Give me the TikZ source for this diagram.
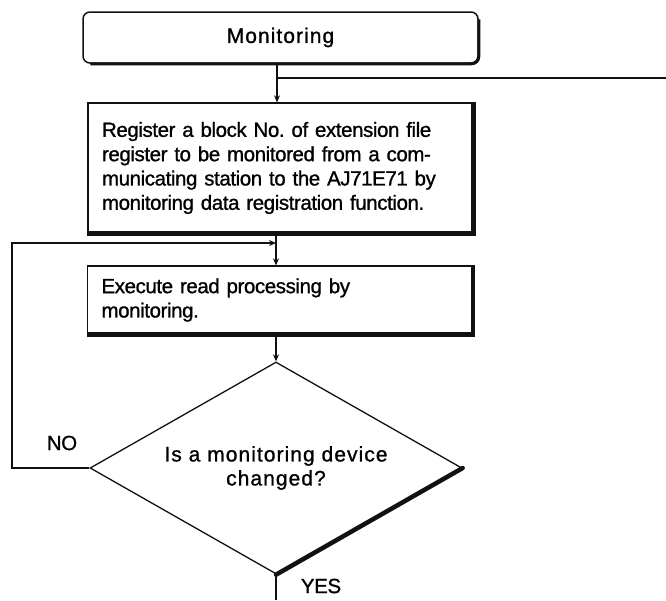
\documentclass[tikz,border=0pt]{standalone}
\usepackage{fontspec}
\setmainfont{Liberation Sans}
\usetikzlibrary{shapes.geometric,arrows.meta}
\definecolor{fcink}{HTML}{111111}
\tikzset{
  fcbox/.style={draw=fcink,line width=1.3pt,fill=white,inner sep=0pt,minimum width=385pt,text width=357pt,align=left,font=\fontsize{20.5}{24.3}\selectfont\addfontfeature{LetterSpace=-2,FakeBold=1}},
  fcstart/.style={draw=fcink,line width=1.5pt,fill=white,rounded corners=7pt,minimum width=395pt,minimum height=51pt,font=\fontsize{21}{24}\selectfont\addfontfeature{LetterSpace=5,FakeBold=1}},
  fcdecide/.style={diamond,aspect=1.755,draw=fcink,line width=1.3pt,fill=white,inner sep=0pt,minimum width=372pt,minimum height=212pt,align=center,font=\fontsize{21}{24}\selectfont\addfontfeature{LetterSpace=5,FakeBold=1}},
  fcshade/.style={draw=fcink,line width=4.5pt},
  fcline/.style={draw=fcink,line width=1.3pt},
  fcflow/.style={fcline,-{Stealth[length=7pt,width=6pt]}},
  fclabel/.style={font=\fontsize{20.5}{24}\selectfont\addfontfeature{LetterSpace=-2,FakeBold=1}}
}
\begin{document}
\frenchspacing
\begin{tikzpicture}[x=1pt,y=-1pt]
  \useasboundingbox (0,0) rectangle (666,600);
  % boxes
  \node[fcstart] (mon) at (280.5,37.5) {Monitoring};
  \node[fcbox,minimum height=130pt] (reg) at (280.5,168) {Register a block No. of extension file\\register to be monitored from a com-\\municating station to the AJ71E71 by\\monitoring data registration function.};
  \node[fcbox,minimum height=68pt] (exe) at (280,300) {Execute read processing by\\monitoring.};
  \node[fcdecide] (dec) at (276,468) {Is a monitoring device\\changed?};
  % shadow edges
  \draw[fcshade,line width=3pt,rounded corners=7pt] ([yshift=-8pt]mon.north east) -- (mon.south east) -- ([xshift=8pt]mon.south west);
  \foreach \b in {reg,exe}{\draw[fcshade] (\b.north east) -- (\b.south east) -- (\b.south west);}
  \draw[fcshade,line cap=round] (dec.east) -- (dec.south);
  % connectors
  \coordinate (jin) at (277,78);
  \coordinate (rin) at (666,78);
  \coordinate (jback) at (276,243);
  \coordinate (lft) at (12,0);
  \coordinate (out) at (276,600);
  \draw[fcline] (mon.south -| jin) -- (jin) -- (rin);
  \draw[fcflow] (jin) -- (jin |- reg.north);
  \draw[fcline] (reg.south -| jback) -- (jback);
  \draw[fcflow] (jback) -- (jback |- exe.north);
  \draw[fcflow] (exe.south -| dec.north) -- (dec.north);
  \draw[fcflow] (dec.west) -- (dec.west -| lft) |- (jback);
  \draw[fcline] (dec.south) -- (out);
  \node[fclabel] (no) at (62,443) {NO};
  \node[fclabel] (yes) at (321,586) {YES};
\end{tikzpicture}
\end{document}
